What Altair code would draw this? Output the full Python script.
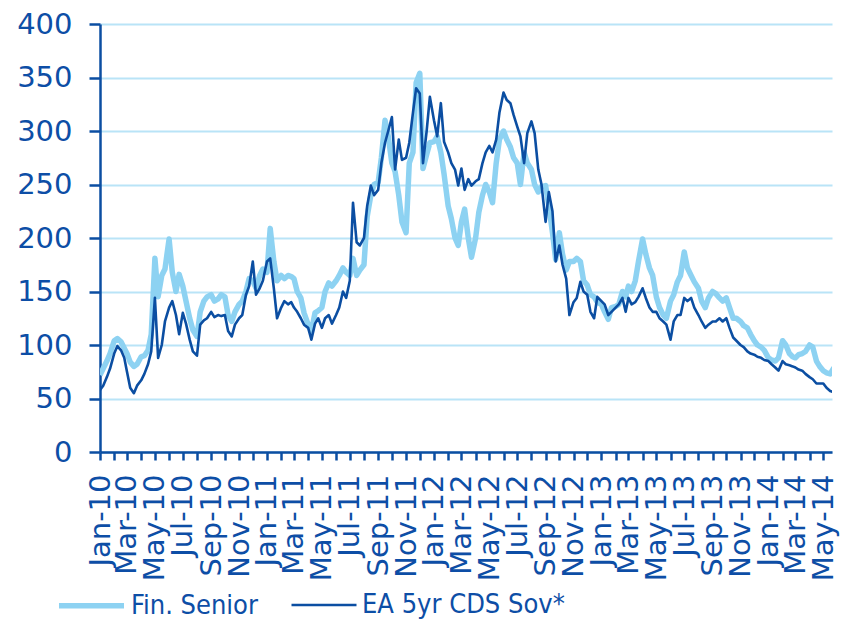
import altair as alt
import pandas as pd

# Quarter-month sampling grid (days of each month), Jan-2010 .. May-2014, plus 1 Jun 2014
quarter_days = [1, 8, 16, 23]
n_months = 53

series_names = ["Fin. Senior", "EA 5yr CDS Sov*"]

fin_senior = [
    72, 78, 85, 92,  104, 106, 103, 97,  92, 84, 80, 82,  89, 90, 95, 110,
    181, 145, 165, 171,  199, 168, 150, 166,  155, 141, 125, 114,  108, 131, 141, 145,
    147, 141, 143, 147,  145, 128, 122, 131,  138, 141, 150, 162,  160, 153, 165, 171,
    168, 209, 178, 160,  165, 162, 165, 164,  162, 150, 144, 130,  119, 113, 130, 132,
    135, 150, 158, 155,  160, 165, 172, 168,  165, 181, 165, 170,  175, 220, 240, 250,
    252, 275, 310, 295,  270, 262, 240, 215,  205, 270, 280, 345,  354, 265, 278, 289,
    290, 295, 280, 260,  230, 218, 200, 193,  215, 227, 200, 182,  200, 224, 240, 250,
    243, 233, 270, 292,  300, 292, 285, 275,  270, 250, 280, 270,  264, 250, 243, 248,
    249, 230, 205, 180,  205, 185, 170, 178,  178, 181, 178, 160,  156, 147, 145, 140,
    138, 131, 124, 135,  136, 138, 150, 145,  155, 150, 160, 178,  199, 185, 172, 165,
    145, 135, 128, 125,  141, 147, 159, 165,  187, 172, 165, 159,  153, 141, 135, 144,
    150, 148, 144, 141,  144, 135, 125, 125,  122, 118, 116, 110,  104, 100, 98, 95,
    88, 86, 85, 88,  104, 100, 92, 89,  88, 91, 92, 94,  100, 98, 85, 80,
    76, 74, 73, 78,  82,
]

ea_sov = [
    58, 62, 70, 78,  92, 99, 95, 88,  75, 60, 55, 62,  67, 73, 82, 94,
    144, 88, 100, 122,  135, 141, 128, 110,  130, 120, 105, 94,  90, 119, 123, 125,
    131, 126, 128, 127,  128, 113, 108, 119,  125, 128, 147, 155,  178, 147, 153, 160,
    178, 181, 153, 125,  135, 141, 138, 140,  135, 131, 125, 119,  116, 105, 120, 125,
    116, 125, 128, 120,  128, 135, 150, 144,  160, 233, 196, 193,  200, 230, 249, 240,
    245, 270, 289, 300,  313, 264, 292, 273,  275, 289, 317, 340,  335, 270, 300, 332,
    310, 295, 326, 290,  280, 270, 264, 249,  265, 245, 255, 249,  253, 255, 270, 280,
    286, 280, 292, 317,  336, 329, 326, 315,  304, 295, 270, 298,  309, 298, 264, 250,
    215, 243, 225, 178,  193, 175, 162, 128,  140, 144, 159, 150,  147, 131, 125, 145,
    141, 138, 128, 131,  135, 138, 144, 131,  144, 138, 140, 145,  153, 144, 135, 131,
    131, 125, 122, 119,  105, 122, 128, 128,  144, 141, 144, 135,  128, 122, 116, 119,
    122, 122, 125, 122,  125, 116, 107, 104,  100, 98, 94, 92,  91, 89, 88, 86,
    85, 82, 79, 76,  85, 82, 81, 80,  79, 77, 76, 73,  70, 68, 64, 64,
    64, 60, 57, 56,  70,
]

dates = []
for m in range(n_months):
    yr = 2010 + m // 12
    mo = m % 12 + 1
    for d in quarter_days:
        dates.append(f"{yr}-{mo:02d}-{d:02d}")
dates.append("2014-06-01")

month_ticks = [(2010 + m // 12, m % 12 + 1) for m in range(n_months)]

df = pd.concat([
    pd.DataFrame({"date": dates, "value": fin_senior, "series": series_names[0]}),
    pd.DataFrame({"date": dates, "value": ea_sov, "series": series_names[1]}),
])

TXT = "#0d4ea6"
LIGHT = "#8dd2f2"
DARK = "#0b4ea2"
GRID = "#b9e4f7"

legend_opts = dict(
    title=None, orient="none", legendX=-44, legendY=546, direction="horizontal",
    symbolType="stroke", symbolSize=4225, labelFontSize=27, labelColor=TXT,
    labelFont="DejaVu Sans Condensed", columnPadding=28, labelOffset=4,
    labelLimit=0, padding=0,
)

x_enc = alt.X(
    "date:T",
    scale=alt.Scale(domain=["2010-01-01", "2014-05-20"]),
    axis=alt.Axis(
        values=[alt.DateTime(year=yy, month=mm, date=1) for yy, mm in month_ticks],
        labelExpr="month(datum.value) % 2 == 0 ? timeFormat(datum.value, '%b-%y') : ''",
        labelAngle=270, labelAlign="right", labelBaseline="middle",
        labelPadding=14, tickSize=8, grid=False, title=None,
        labelOverlap=False, labelFlush=False, labelBound=False,
    ),
)
y_enc = alt.Y(
    "value:Q",
    scale=alt.Scale(domain=[0, 400], nice=False),
    axis=alt.Axis(values=list(range(0, 401, 50)), tickSize=11, labelPadding=17,
                  grid=True, title=None),
)
color_enc = alt.Color(
    "series:N",
    scale=alt.Scale(domain=series_names, range=[LIGHT, DARK]),
    legend=alt.Legend(**legend_opts),
)
sw_enc = alt.StrokeWidth(
    "series:N",
    scale=alt.Scale(domain=series_names, range=[5.5, 2.6]),
    legend=alt.Legend(**legend_opts),
)

base = alt.Chart(df).mark_line(clip=True, strokeJoin="round").encode(
    x=x_enc, y=y_enc, color=color_enc, strokeWidth=sw_enc
)

light = base.transform_filter(alt.datum.series == series_names[0])
dark = base.transform_filter(alt.datum.series == series_names[1])

chart = alt.layer(light, dark).properties(
    width=732, height=428,
    background="white",
    autosize=alt.AutoSizeParams(type="none"),
    padding={"left": 92, "top": 16, "right": 8, "bottom": 173},
).configure_axis(
    domainColor=DARK, domainWidth=2.5, tickColor=DARK, tickWidth=2.5,
    labelColor=TXT, labelFont="DejaVu Sans", labelFontSize=29,
    gridColor=GRID, gridWidth=2, gridOpacity=1,
).configure_view(strokeWidth=0)

chart.save("out.html", embed_options={"renderer": "svg", "actions": False})
